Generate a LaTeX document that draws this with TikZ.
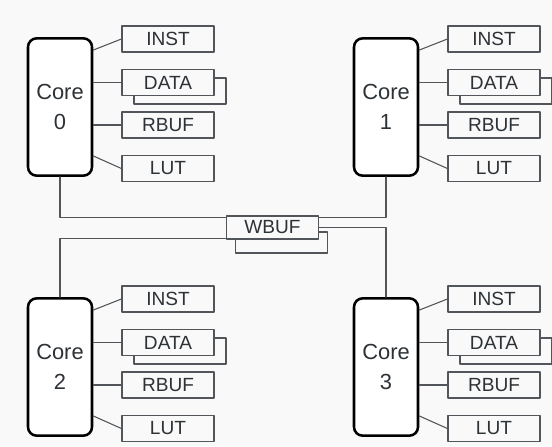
\documentclass[tikz,border=0pt]{standalone}
\usepackage{fontspec}
\setmainfont{Liberation Sans}
\usetikzlibrary{positioning}
\definecolor{wirecol}{RGB}{82,86,90}
\definecolor{txtcol}{RGB}{45,50,55}
\definecolor{paper}{RGB}{249,249,249}

\begin{document}
\begin{tikzpicture}[x=0.75pt, y=-0.75pt, line cap=round, line join=round,
    core/.style={draw=black, line width=1.9pt, rounded corners=6.5pt, fill=white,
      minimum width=48pt, minimum height=103pt, align=center, text=txtcol,
      font=\fontsize{16.4}{22.5}\selectfont},
    mem/.style={draw=wirecol, line width=0.9pt, fill=paper, minimum width=69pt,
      minimum height=19.5pt, inner sep=0pt, text=txtcol,
      font=\fontsize{14.3}{16}\selectfont},
    link/.style={draw=wirecol, line width=0.8pt}]
  % page
  \fill[paper] (0,0) rectangle (552,446);
  \useasboundingbox (0,0) rectangle (552,446);
  % one core with its local memories
  \foreach \n/\dx/\dy in {0/0/0, 1/326/0, 2/0/260, 3/326/260} {
    \node[core] (core\n) at (60+\dx, 107+\dy) {Core\\\n};
    \node[mem] (inst\n) at (168+\dx, 39+\dy) {INST};
    \node[mem] (back\n) at (180+\dx, 91+\dy) {};
    \node[mem] (data\n) at (168+\dx, 82.5+\dy) {DATA};
    \node[mem] (rbuf\n) at (168+\dx, 125+\dy) {RBUF};
    \node[mem] (lut\n) at (168+\dx, 168.5+\dy) {LUT};
    \draw[link] ([yshift=-9.75pt]core\n.north east) -- (inst\n.west);
    \draw[link] (core\n.east |- data\n.west) -- (data\n.west);
    \draw[link] (core\n.east |- rbuf\n.west) -- (rbuf\n.west);
    \draw[link] ([yshift=15.75pt]core\n.south east) -- (lut\n.west);
  }
  % shared write buffer
  \node[mem, minimum height=15.75pt] (wback) at (281.5, 242.5) {};
  \node[mem, minimum height=17.25pt] (wbuf) at (272.5, 227.5) {WBUF};
  \draw[link] (core0.south) |- ([yshift=-1.7pt]wbuf.north west);
  \draw[link] ([yshift=-1.7pt]wbuf.north east) -| (core1.south);
  \draw[link] (core2.north) |- ([yshift=1pt]wbuf.south west);
  \draw[link] (wbuf.east) -| (core3.north);
\end{tikzpicture}
\end{document}
